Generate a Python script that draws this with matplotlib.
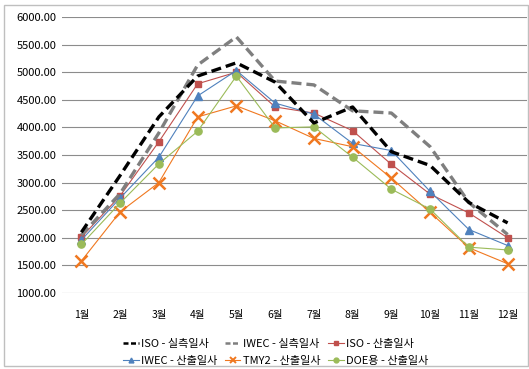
import matplotlib.pyplot as plt
from matplotlib.lines import Line2D
from matplotlib.patches import Rectangle

plt.rcParams['font.family'] = ['Noto Sans CJK KR', 'DejaVu Sans']

months = ['1월', '2월', '3월', '4월', '5월', '6월', '7월', '8월', '9월', '10월', '11월', '12월']

iso_measured = [2100, 3130, 4190, 4930, 5170, 4820, 4080, 4370, 3560, 3310, 2640, 2270]
iwec_measured = [2050, 2800, 3900, 5130, 5640, 4840, 4770, 4300, 4260, 3650, 2640, 2060]
iso_calc = [2010, 2760, 3740, 4790, 5000, 4370, 4260, 3940, 3330, 2790, 2450, 2000]
iwec_calc = [1960, 2720, 3460, 4570, 5030, 4440, 4240, 3710, 3580, 2840, 2150, 1860]
tmy2_calc = [1580, 2470, 3000, 4190, 4390, 4120, 3800, 3650, 3080, 2460, 1820, 1530]
doe_calc = [1880, 2630, 3340, 3930, 4930, 3990, 4010, 3460, 2880, 2520, 1830, 1780]

yticks = [1000, 1500, 2000, 2500, 3000, 3500, 4000, 4500, 5000, 5500, 6000]

fig = plt.figure(figsize=(5.29, 3.69), dpi=100)
fig.patches.append(Rectangle((4 / 529, 3 / 369), 524 / 529, 361 / 369,
                             transform=fig.transFigure, fill=False,
                             edgecolor='#bfbfbf', linewidth=1))
ax = fig.add_axes([62 / 529, 76 / 369, 465 / 529, 276 / 369])

x = range(len(months))
ax.plot(x, iso_measured, color='black', lw=2.4, dashes=(3, 1.5), zorder=5)
ax.plot(x, iwec_measured, color='#7f7f7f', lw=2.4, dashes=(3, 1.5), zorder=4)
ax.plot(x, iso_calc, color='#c0504d', lw=0.8, marker='s', ms=4.8)
ax.plot(x, iwec_calc, color='#4f81bd', lw=0.8, marker='^', ms=5.2)
ax.plot(x, tmy2_calc, color='#f07820', lw=0.8, marker='x', ms=8, mew=1.8)
ax.plot(x, doe_calc, color='#9bbb59', lw=0.8, marker='o', ms=5.2)

ax.set_xlim(-0.5, len(months) - 0.5)
ax.set_ylim(1000, 6000)
ax.set_yticks(yticks)
ax.set_yticklabels([f'{v:.2f}' for v in yticks], fontsize=8)
ax.set_xticks(list(x))
ax.set_xticklabels(months, fontsize=7.5)
ax.tick_params(length=0, pad=12, axis='x')
ax.tick_params(length=0, pad=4, axis='y')
ax.yaxis.grid(True, color='#8c8c8c', lw=0.8)
ax.set_axisbelow(True)
for s in ax.spines.values():
    s.set_visible(False)

# smaller legend keys, in row order (legend fills column by column)
keys = [
    (Line2D([], [], color='black', lw=1.8, dashes=(2, 1)), 'ISO - 실측일사'),
    (Line2D([], [], color='#4f81bd', lw=0.8, marker='^', ms=3.5), 'IWEC - 산출일사'),
    (Line2D([], [], color='#7f7f7f', lw=1.8, dashes=(2, 1)), 'IWEC - 실측일사'),
    (Line2D([], [], color='#f07820', lw=0.8, marker='x', ms=4.5, mew=1.4), 'TMY2 - 산출일사'),
    (Line2D([], [], color='#c0504d', lw=0.8, marker='s', ms=3.2), 'ISO - 산출일사'),
    (Line2D([], [], color='#9bbb59', lw=0.8, marker='o', ms=3.5), 'DOE용 - 산출일사'),
]
fig.legend([k[0] for k in keys], [k[1] for k in keys], ncol=3,
           loc='center left', bbox_to_anchor=(123 / 529, 1 - 352.5 / 369),
           frameon=False, fontsize=8, handlelength=1.4, handletextpad=0.2,
           columnspacing=0.7, labelspacing=0.6, borderpad=0, borderaxespad=0)

fig.savefig('out.png', dpi=100)
